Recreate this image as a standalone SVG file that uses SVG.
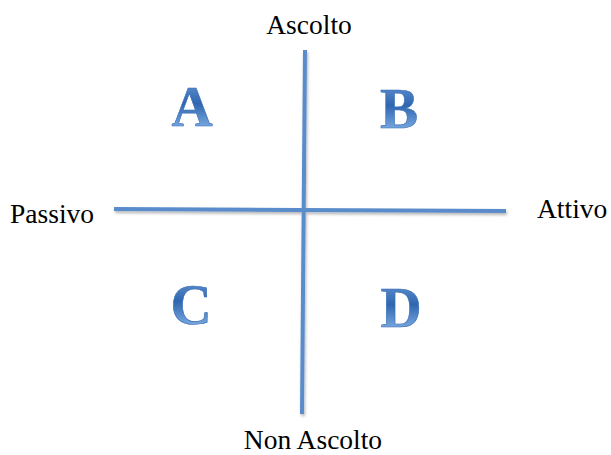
<svg xmlns="http://www.w3.org/2000/svg" width="611" height="455" viewBox="0 0 611 455">
  <defs>
    <linearGradient id="lg" x1="0" y1="0" x2="0" y2="1">
      <stop offset="0" stop-color="#6f9fd8"/>
      <stop offset="0.45" stop-color="#2f66b0"/>
      <stop offset="0.75" stop-color="#6a9bd6"/>
      <stop offset="1" stop-color="#9cc0ea"/>
    </linearGradient>
    <filter id="sh" x="-10%" y="-10%" width="130%" height="130%">
      <feGaussianBlur in="SourceAlpha" stdDeviation="1.5"/>
      <feOffset dx="1" dy="2" result="b"/>
      <feComponentTransfer><feFuncA type="linear" slope="0.3"/></feComponentTransfer>
      <feMerge><feMergeNode/><feMergeNode in="SourceGraphic"/></feMerge>
    </filter>
  </defs>
  <style>
    .lbl { font-family: "Liberation Serif", "Times New Roman", serif; font-size: 27.5px; fill: #000; }
    .big { font-family: "Liberation Serif", "Times New Roman", serif; font-size: 57px; font-weight: bold; fill: url(#lg); stroke: #3a6fb6; stroke-width: 0.6; text-anchor: middle; }
    .axis { stroke: #5a8ccb; stroke-width: 4; fill: none; }
  </style>
  <g id="connectors" filter="url(#sh)">
    <line class="axis" x1="114" y1="209" x2="506" y2="211"/>
    <line class="axis" x1="305" y1="50" x2="302" y2="414"/>
  </g>
  <g id="label-ascolto"><text class="lbl" x="309" y="34" text-anchor="middle">Ascolto</text></g>
  <g id="label-passivo"><text class="lbl" x="10" y="223">Passivo</text></g>
  <g id="label-attivo"><text class="lbl" x="537" y="218">Attivo</text></g>
  <g id="label-nonascolto"><text class="lbl" x="313" y="449" text-anchor="middle">Non Ascolto</text></g>
  <g id="node-A"><text class="big" x="192" y="126">A</text></g>
  <g id="node-B"><text class="big" x="399" y="128">B</text></g>
  <g id="node-C"><text class="big" x="191" y="324">C</text></g>
  <g id="node-D"><text class="big" x="401" y="327">D</text></g>
</svg>
